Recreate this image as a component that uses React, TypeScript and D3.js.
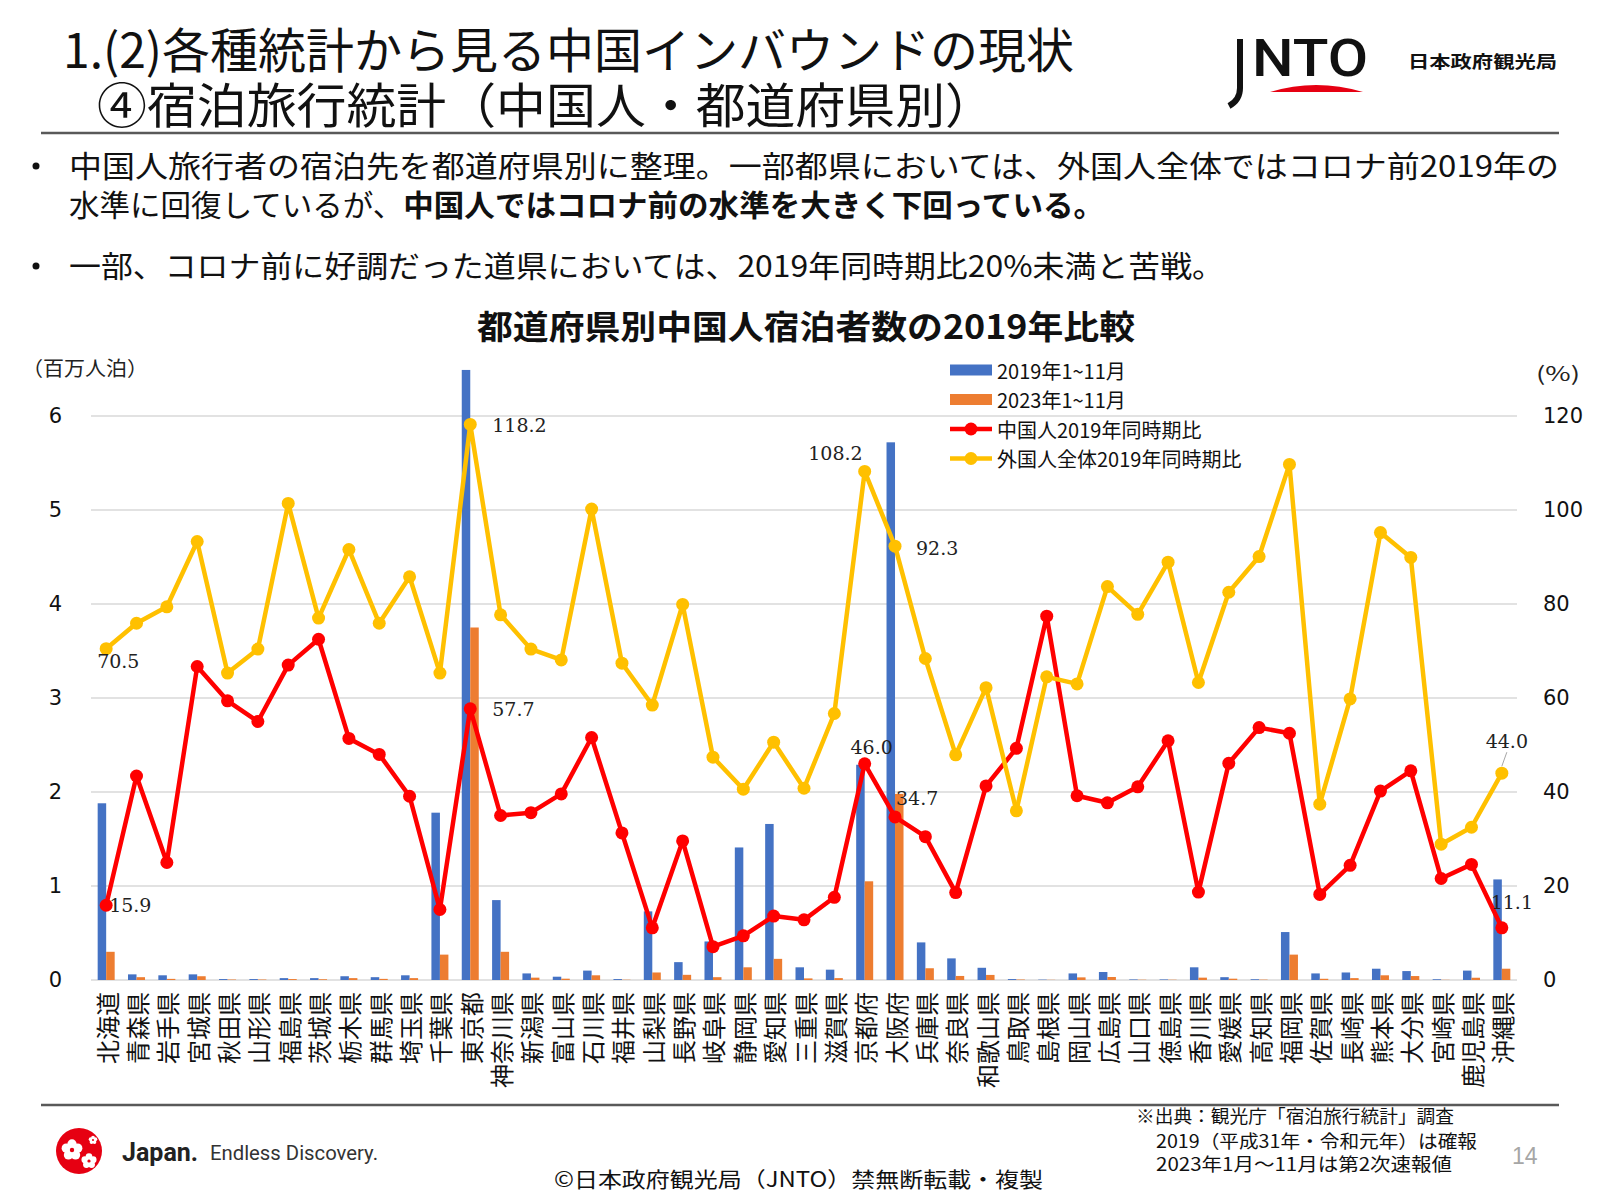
import React from 'react';
import * as d3 from 'd3';

const categories = [
  '北海道','青森県','岩手県','宮城県','秋田県','山形県','福島県','茨城県','栃木県','群馬県','埼玉県','千葉県',
  '東京都','神奈川県','新潟県','富山県','石川県','福井県','山梨県','長野県','岐阜県','静岡県','愛知県','三重県',
  '滋賀県','京都府','大阪府','兵庫県','奈良県','和歌山県','鳥取県','島根県','岡山県','広島県','山口県','徳島県',
  '香川県','愛媛県','高知県','福岡県','佐賀県','長崎県','熊本県','大分県','宮崎県','鹿児島県','沖縄県'
];

// 2019年1~11月 (百万人泊)
const stays2019 = [
  1.88,0.06,0.05,0.06,0.01,0.01,0.02,0.02,0.04,0.03,0.05,1.78,
  6.49,0.85,0.07,0.035,0.10,0.01,0.73,0.19,0.41,1.41,1.66,0.135,
  0.11,2.29,5.72,0.40,0.23,0.13,0.01,0.004,0.07,0.085,0.006,0.006,
  0.135,0.03,0.008,0.51,0.07,0.08,0.12,0.095,0.008,0.10,1.07
];
// 2023年1~11月 (百万人泊)
const stays2023 = [
  0.30,0.03,0.012,0.04,0.005,0.005,0.01,0.008,0.02,0.012,0.02,0.27,
  3.75,0.30,0.025,0.014,0.05,0.003,0.08,0.055,0.03,0.135,0.225,0.017,
  0.02,1.05,1.98,0.125,0.043,0.054,0.005,0.002,0.028,0.032,0.003,0.003,
  0.025,0.014,0.004,0.27,0.013,0.02,0.05,0.042,0.002,0.024,0.12
];
// 中国人2019年同時期比 (%)
const chinaRatio = [
  15.9,43.4,25.0,66.7,59.4,55.0,67.0,72.5,51.4,48.0,39.1,15.0,
  57.7,35.0,35.6,39.6,51.6,31.3,11.1,29.6,7.1,9.4,13.6,12.8,
  17.6,46.0,34.7,30.5,18.6,41.3,49.3,77.4,39.2,37.7,41.1,50.9,
  18.7,46.1,53.7,52.5,18.2,24.4,40.2,44.5,21.6,24.6,11.1
];
// 外国人全体2019年同時期比 (%)
const allRatio = [
  70.5,75.9,79.4,93.3,65.3,70.4,101.4,77.0,91.6,75.9,85.8,65.3,
  118.2,77.7,70.4,68.1,100.2,67.4,58.5,79.9,47.4,40.6,50.6,40.8,
  56.7,108.2,92.3,68.4,47.9,62.2,36.0,64.5,63.0,83.7,77.8,88.9,
  63.3,82.5,90.1,109.7,37.4,59.8,95.2,89.9,28.9,32.5,44.0
];

const leftTicks = [0, 1, 2, 3, 4, 5, 6];
const rightTicks = [0, 20, 40, 60, 80, 100, 120];

const legendItems = [
  { label: '2019年1~11月', kind: 'bar', color: '#4472C4' },
  { label: '2023年1~11月', kind: 'bar', color: '#ED7D31' },
  { label: '中国人2019年同時期比', kind: 'line', color: '#FF0000' },
  { label: '外国人全体2019年同時期比', kind: 'line', color: '#FFC000' },
];

// data labels: series, index, offset from the point
const dataLabels = [
  { s: 'cn', i: 0, dx: 3, dy: 0, anchor: 'start' },
  { s: 'all', i: 0, dx: -9, dy: 12, anchor: 'start' },
  { s: 'all', i: 12, dx: 22, dy: 1, anchor: 'start' },
  { s: 'cn', i: 12, dx: 22, dy: 0, anchor: 'start' },
  { s: 'all', i: 25, dx: -2, dy: -18, anchor: 'end' },
  { s: 'all', i: 26, dx: 21, dy: 2, anchor: 'start' },
  { s: 'cn', i: 25, dx: 7, dy: -17, anchor: 'middle' },
  { s: 'cn', i: 26, dx: 1, dy: -19, anchor: 'start' },
  { s: 'all', i: 46, dx: 5, dy: -32, anchor: 'middle' },
  { s: 'cn', i: 46, dx: 10, dy: -26, anchor: 'middle' },
];

const JP = '"Noto Sans CJK JP", "Noto Sans", sans-serif';

function Flower({ cx, cy, r }: { cx: number; cy: number; r: number }) {
  const petals = d3.range(5).map((k) => {
    const a = (k * 72 - 90) * Math.PI / 180;
    return <circle key={k} cx={cx + Math.cos(a) * r * 0.55} cy={cy + Math.sin(a) * r * 0.55} r={r * 0.42} fill="#fff" />;
  });
  return (
    <g>
      {petals}
      <circle cx={cx} cy={cy} r={r * 0.2} fill="#E60012" />
    </g>
  );
}

export default function App() {
  const W = 1600, H = 1200;
  const x = d3.scaleBand<string>().domain(categories).range([91, 1517]).paddingInner(0).paddingOuter(0);
  const sub = d3.scaleBand<string>().domain(['a', 'b']).range([-8.5, 8.5]);
  const yL = d3.scaleLinear().domain([0, 6]).range([980, 416]);
  const yR = d3.scaleLinear().domain([0, 120]).range([980, 416]);
  const cx = (i: number) => (x(categories[i]) as number) + x.bandwidth() / 2;
  const line = d3.line<number>().x((_, i) => cx(i)).y((d) => yR(d));
  const plotL = 91, plotR = 1517;

  return (
    <svg width={W} height={H} viewBox={`0 0 ${W} ${H}`} style={{ position: 'absolute', left: 0, top: 0, display: 'block', background: '#fff' }}>
      <rect x={0} y={0} width={W} height={H} fill="#fff" />

      {/* Header */}
      <text x={63} y={47} fontFamily={JP} fontSize={48} dominantBaseline="central" textLength={1011} lengthAdjust="spacingAndGlyphs" fill="#111">1.(2)各種統計から見る中国インバウンドの現状</text>
      <text x={97} y={102} fontFamily={JP} fontSize={48} dominantBaseline="central" textLength={898} lengthAdjust="spacingAndGlyphs" fill="#111">④宿泊旅行統計（中国人・都道府県別）</text>

      {/* JNTO logo */}
      <path d="M1240,39 L1240,88 Q1240,100 1229,106" fill="none" stroke="#111" strokeWidth={6} />
      <text x={1252} y={76} fontFamily="Roboto, 'Liberation Sans', sans-serif" fontSize={52} fontWeight={500} textLength={116} lengthAdjust="spacingAndGlyphs" fill="#111">NTO</text>
      <path d="M1270,92 Q1316,78 1363,92 Z" fill="#E60012" />
      <text x={1408} y={60} fontFamily={JP} fontSize={17} fontWeight={700} dominantBaseline="central" textLength={149} lengthAdjust="spacingAndGlyphs" fill="#111">日本政府観光局</text>

      <line x1={41} x2={1559} y1={133} y2={133} stroke="#595959" strokeWidth={2.5} />

      {/* Bullets */}
      <g fontFamily={JP} fontSize={30} fill="#111" dominantBaseline="central">
        <circle cx={36} cy={166} r={3.5} fill="#111" />
        <text x={69} y={164} textLength={1490} lengthAdjust="spacingAndGlyphs">中国人旅行者の宿泊先を都道府県別に整理。一部都県においては、外国人全体ではコロナ前2019年の</text>
        <text x={69} y={203} textLength={1035} lengthAdjust="spacingAndGlyphs">水準に回復しているが、<tspan fontWeight={700}>中国人ではコロナ前の水準を大きく下回っている。</tspan></text>
        <circle cx={36} cy={266} r={3.5} fill="#111" />
        <text x={69} y={264} textLength={1155} lengthAdjust="spacingAndGlyphs">一部、コロナ前に好調だった道県においては、2019年同時期比20%未満と苦戦。</text>
      </g>

      {/* Chart title */}
      <text x={477} y={325} fontFamily={JP} fontSize={33} fontWeight={700} dominantBaseline="central" textLength={658} lengthAdjust="spacingAndGlyphs" fill="#111">都道府県別中国人宿泊者数の2019年比較</text>

      {/* Axis titles */}
      <text x={22} y={367} fontFamily={JP} fontSize={20} dominantBaseline="central" textLength={126} lengthAdjust="spacingAndGlyphs" fill="#222">（百万人泊）</text>
      <text x={1536} y={372} fontFamily={JP} fontSize={20} dominantBaseline="central" textLength={44} lengthAdjust="spacingAndGlyphs" fill="#222">(%)</text>

      {/* Gridlines */}
      {leftTicks.map((t) => (
        <line key={t} x1={plotL} x2={plotR} y1={yL(t)} y2={yL(t)} stroke="#D9D9D9" strokeWidth={1.5} />
      ))}
      {/* Left tick labels */}
      {leftTicks.map((t) => (
        <text key={t} x={62} y={yL(t)} textAnchor="end" dominantBaseline="central" fontFamily="'DejaVu Sans', Verdana, sans-serif" fontSize={21} fill="#111">{t}</text>
      ))}
      {/* Right tick labels */}
      {rightTicks.map((t) => (
        <text key={t} x={1543} y={yR(t)} textAnchor="start" dominantBaseline="central" fontFamily="'DejaVu Sans', Verdana, sans-serif" fontSize={21} fill="#111">{t}</text>
      ))}

      {/* Bars */}
      {categories.map((c, i) => (
        <g key={c}>
          <rect x={cx(i) + (sub('a') as number)} width={sub.bandwidth()} y={yL(stays2019[i])} height={yL(0) - yL(stays2019[i])} fill="#4472C4" />
          <rect x={cx(i) + (sub('b') as number)} width={sub.bandwidth()} y={yL(stays2023[i])} height={yL(0) - yL(stays2023[i])} fill="#ED7D31" />
        </g>
      ))}

      {/* X labels (rotated 270°) */}
      {categories.map((c, i) => (
        <text key={c} transform={`translate(${cx(i)},992) rotate(-90)`} x={0} y={0} textAnchor="end" dominantBaseline="central" fontFamily={JP} fontSize={24} fill="#111">{c}</text>
      ))}

      {/* Lines */}
      <path d={line(chinaRatio) as string} fill="none" stroke="#FF0000" strokeWidth={4.5} strokeLinejoin="round" />
      {chinaRatio.map((v, i) => <circle key={i} cx={cx(i)} cy={yR(v)} r={6.5} fill="#FF0000" />)}
      <path d={line(allRatio) as string} fill="none" stroke="#FFC000" strokeWidth={4.5} strokeLinejoin="round" />
      {allRatio.map((v, i) => <circle key={i} cx={cx(i)} cy={yR(v)} r={6.5} fill="#FFC000" />)}

      {/* Leader line for 沖縄 44.0 */}
      <line x1={cx(46) + 5} y1={yR(allRatio[46]) - 21} x2={cx(46)} y2={yR(allRatio[46]) - 7} stroke="#A6A6A6" strokeWidth={1} />

      {/* Data labels */}
      {dataLabels.map((d, k) => {
        const v = d.s === 'cn' ? chinaRatio[d.i] : allRatio[d.i];
        return (
          <text key={k} x={cx(d.i) + d.dx} y={yR(v) + d.dy} textAnchor={d.anchor as any} dominantBaseline="central" fontFamily="'DejaVu Serif', serif" fontSize={19} fill="#222">{v.toFixed(1)}</text>
        );
      })}

      {/* Legend */}
      {legendItems.map((it, k) => {
        const y = 370 + k * 29.5;
        return (
          <g key={it.label}>
            {it.kind === 'bar' ? (
              <rect x={950} y={y - 5.5} width={42} height={11} fill={it.color} />
            ) : (
              <g>
                <line x1={950} x2={992} y1={y} y2={y} stroke={it.color} strokeWidth={4.5} />
                <circle cx={971} cy={y} r={6.5} fill={it.color} />
              </g>
            )}
            <text x={997} y={y} dominantBaseline="central" fontFamily={JP} fontSize={20} fill="#111">{it.label}</text>
          </g>
        );
      })}

      {/* Footer */}
      <line x1={41} x2={1559} y1={1105} y2={1105} stroke="#595959" strokeWidth={2.5} />
      <circle cx={79} cy={1151} r={23} fill="#E60012" />
      <Flower cx={72} cy={1150} r={11} />
      <Flower cx={89} cy={1161} r={8} />
      <Flower cx={93} cy={1140} r={4.5} />
      <text x={122} y={1152} fontFamily="Roboto, 'Liberation Sans', sans-serif" fontSize={25} fontWeight={700} dominantBaseline="central" fill="#222">Japan.</text>
      <text x={210} y={1153} fontFamily="Roboto, 'Liberation Sans', sans-serif" fontSize={20} dominantBaseline="central" textLength={168} lengthAdjust="spacingAndGlyphs" fill="#333">Endless Discovery.</text>

      <text x={554} y={1178} fontFamily={JP} fontSize={21} dominantBaseline="central" textLength={489} lengthAdjust="spacingAndGlyphs" fill="#111">©日本政府観光局（JNTO）禁無断転載・複製</text>

      <g fontFamily={JP} fontSize={18} fill="#111" dominantBaseline="central">
        <text x={1136} y={1115} textLength={318} lengthAdjust="spacingAndGlyphs">※出典：観光庁「宿泊旅行統計」調査</text>
        <text x={1156} y={1140} textLength={321} lengthAdjust="spacingAndGlyphs">2019（平成31年・令和元年）は確報</text>
        <text x={1156} y={1163} textLength={296} lengthAdjust="spacingAndGlyphs">2023年1月～11月は第2次速報値</text>
      </g>
      <text x={1512} y={1156} fontFamily="'Liberation Sans', sans-serif" fontSize={23} dominantBaseline="central" fill="#A6A6A6">14</text>
    </svg>
  );
}
